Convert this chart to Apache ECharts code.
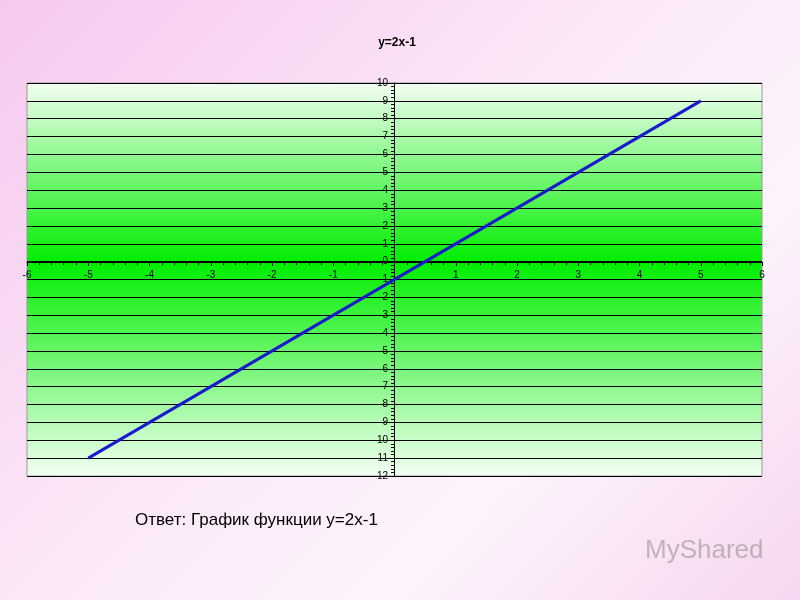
<!DOCTYPE html><html><head><meta charset="utf-8">
<script src="https://cdn.jsdelivr.net/npm/echarts@6/dist/echarts.min.js"></script>
<style>html,body{margin:0;padding:0;}body{width:800px;height:600px;background:linear-gradient(135deg,#f6c8ee 0%,#fbe8f8 45%,#fdf4fc 70%,#f6d6f0 100%);}#c{width:800px;height:600px;}</style>
</head><body><div id="c"></div><script>
var xValues=[-5,5];
var yValues=[-11,9];
var chartTitle='y=2x-1';
var answerText='Ответ: График функции y=2x-1';
var ch=echarts.init(document.getElementById('c'));
ch.setOption({
 title:{text:chartTitle,left:392,top:32,textAlign:'center',textStyle:{fontSize:12,fontWeight:'bold',color:'#000',fontFamily:'Liberation Sans'}},
 graphic:[{type:'text',left:135,top:512,style:{text:answerText,fontSize:17,fill:'#000',fontFamily:'Liberation Sans'}},
  {type:'text',left:645,top:538,style:{text:'MyShared',fontSize:26,fill:'rgba(120,120,120,0.45)',fontFamily:'Liberation Sans'}}],
 grid:{left:27,right:38,top:83,bottom:124,show:true,borderColor:'#999',borderWidth:1,
  backgroundColor:{type:'linear',x:0,y:0,x2:0,y2:1,colorStops:[{offset:0,color:'#f4fff4'},{offset:0.455,color:'#00ee00'},{offset:1,color:'#f4fff4'}]}},
 xAxis:{type:'value',min:-6,max:6,interval:1,offset:-214,axisLine:{onZero:false,lineStyle:{color:'#000'}},
  axisTick:{lineStyle:{color:'#000'},length:4},minorTick:{show:true,splitNumber:5,length:3,lineStyle:{color:'#000'}},
  splitLine:{show:false},axisLabel:{fontSize:10,color:'#000',margin:8,formatter:function(v){return v==0?'':v;}}},
 yAxis:{type:'value',min:-12,max:10,interval:1,offset:-367,axisLine:{onZero:false,lineStyle:{color:'#000'}},
  axisTick:{lineStyle:{color:'#000'},length:4},minorTick:{show:true,splitNumber:5,length:3,lineStyle:{color:'#000'}},
  splitLine:{show:true,lineStyle:{color:'#000',width:1}},axisLabel:{fontSize:10,color:'#000',margin:6}},
 series:[{type:'line',data:xValues.map(function(x,i){return [x,yValues[i]];}),symbol:'none',lineStyle:{color:'#1a1acc',width:3},animation:false}]
});
</script></body></html>
